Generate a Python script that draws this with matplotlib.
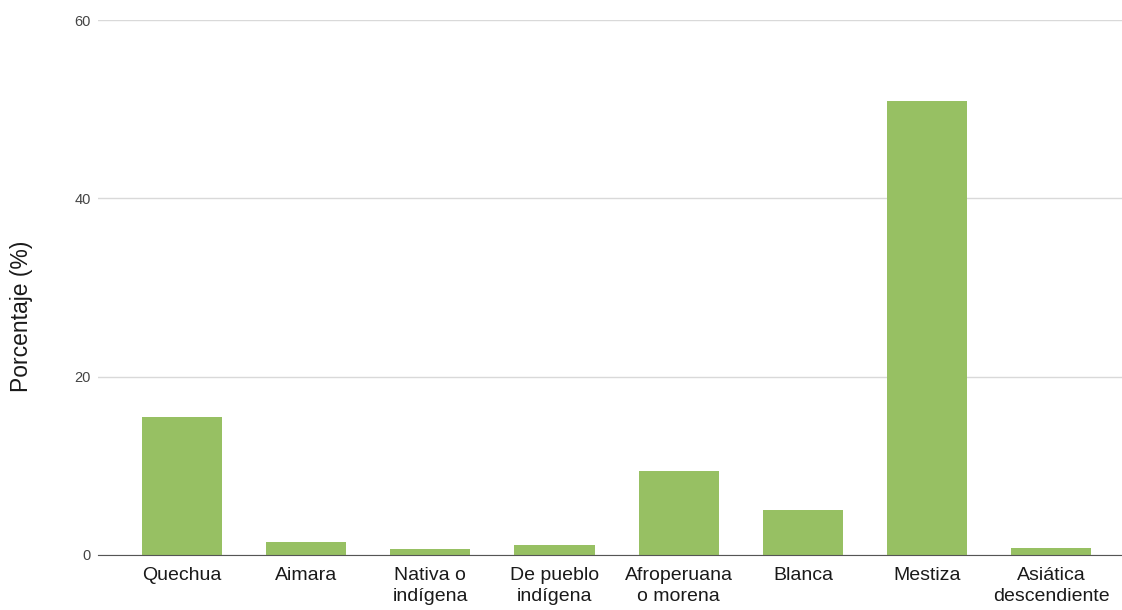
import matplotlib.pyplot as plt
import numpy as np

# categories and values (%)
categories = ["Quechua", "Aimara", "Nativa o\nindígena", "De pueblo\nindígena",
              "Afroperuana\no morena", "Blanca", "Mestiza", "Asiática\ndescendiente"]
values = [15.5, 1.5, 0.7, 1.1, 9.4, 5.0, 50.9, 0.8]
yticks = [0, 20, 40, 60]

plt.rcParams['font.family'] = ['Liberation Sans', 'DejaVu Sans']

fig = plt.figure(figsize=(11.22, 6.10), dpi=100)
ax = fig.add_axes([0.0873, 0.0902, 0.9127, 0.8770])

x = np.arange(len(categories))
ax.bar(x, values, width=0.645, color="#97c063", zorder=3)

ax.set_xlim(-0.677, 7.57)
ax.set_ylim(0, 60)
ax.set_yticks(yticks)
ax.set_xticks(x)
ax.set_xticklabels(categories, fontsize=14, color="#1a1a1a", linespacing=1.3)
ax.tick_params(axis='y', labelsize=10.5, colors="#444444", length=0, pad=5)
ax.tick_params(axis='x', length=0, pad=9)
ax.yaxis.grid(True, color="#d9d9d9", linewidth=1, zorder=0)

for s in ["top", "right", "left"]:
    ax.spines[s].set_visible(False)
ax.spines["bottom"].set_color("#555555")
ax.spines["bottom"].set_zorder(4)

# label sits a bit below the axis centre, as in the original
ax.set_ylabel("Porcentaje (%)", fontsize=16.5, color="#1a1a1a")
ax.yaxis.set_label_coords(-0.0635, 0.446)

fig.savefig("out.png", dpi=100)
